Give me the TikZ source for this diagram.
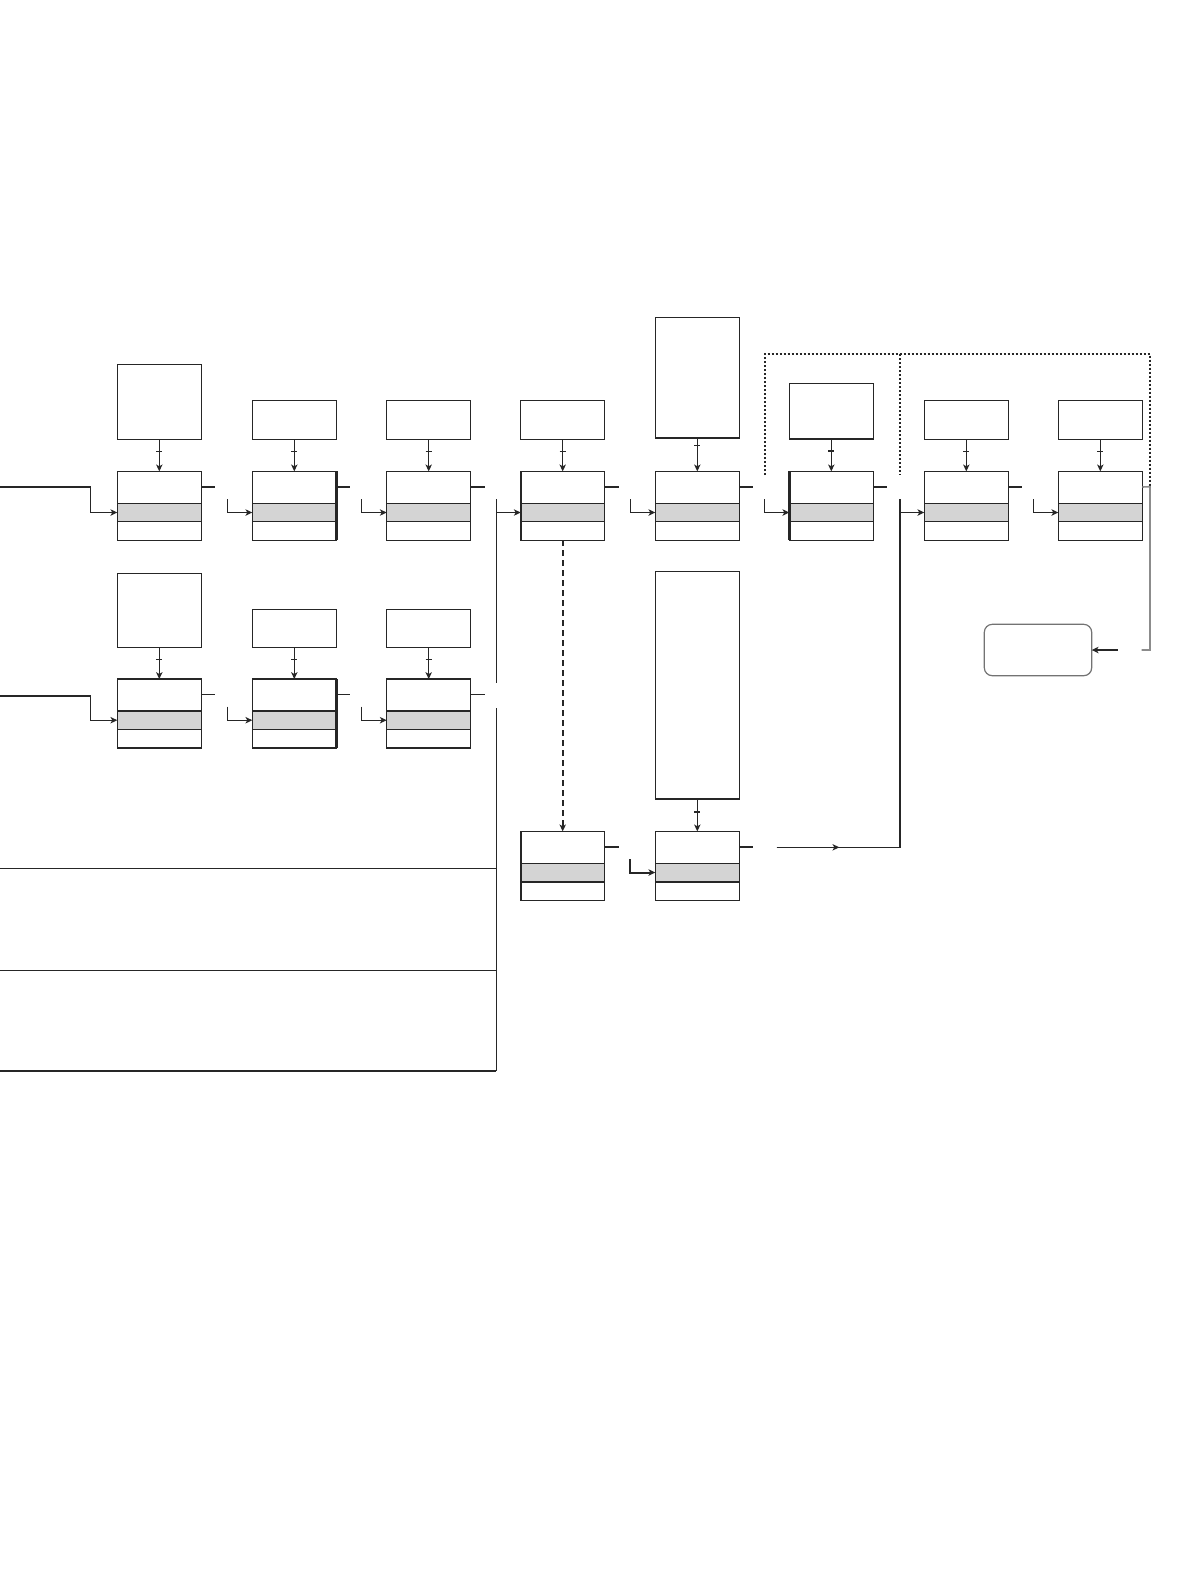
\documentclass[tikz,border=0pt]{standalone}
\usetikzlibrary{arrows.meta,calc}
\tikzset{
 ln/.style={line width=0.55pt, draw=black!85},
 arr/.style={ln, -{Stealth[length=3.4pt,width=3.2pt,inset=0.9pt]}},
 topbox/.style={draw=black!85, line width=0.6pt, minimum width=42pt, inner sep=0pt, outer sep=0pt, anchor=north west},
 stackbox/.style={topbox, minimum height=34.5pt},
 band/.style={fill=black!17, draw=black!85, line width=0.6pt},
 dotline/.style={line width=1.1pt, dash pattern=on 1pt off 1pt, draw=black!85},
 dashline/.style={line width=1pt, dash pattern=on 3pt off 2pt, draw=black!85, -{Stealth[length=3.4pt,width=3.2pt,inset=0.9pt]}},
 thickedge/.style={line width=1.2pt, draw=black!85},
 grayline/.style={line width=0.8pt, draw=black!45},
 roundbox/.style={draw=black!55, line width=0.6pt, rounded corners=4pt, minimum width=53.7pt, minimum height=25.7pt, inner sep=0pt, outer sep=0pt, anchor=north west},
}
\newcommand{\stackat}[3]{%
 \node[stackbox] (#1) at (#2,#3) {};
 \draw[band] ([yshift=-16pt]#1.north west) rectangle ([yshift=-25.25pt]#1.north east);
 \coordinate (#1in) at ([yshift=-20.6pt]#1.north west);
 \coordinate (#1out) at ([yshift=-7.85pt]#1.north east);
}
\newcommand{\feed}[3]{%
 \draw[arr] (#1.south) -- (#2.north);
 \draw[ln] ($(#1.south)+(-1.5pt,-#3)$) -- ++(3pt,0pt);
}
\newcommand{\stub}[1]{\draw[ln] (#1out) -- ++(7pt,0pt);}
\newcommand{\infeed}[1]{\draw[arr] ([xshift=-12.5pt,yshift=6.75pt]#1in) |- (#1in);}
\begin{document}
\begin{tikzpicture}[x=0.5pt,y=-0.5pt]
\fill[white] (0,0) rectangle (1191,1587);
\useasboundingbox (0,0) rectangle (1191,1587);

% ---- row 1 top boxes
\node[topbox, minimum height=37.5pt] (t11) at (117.3,364.3) {};
\node[topbox, minimum height=19.5pt] (t12) at (252.3,400.3) {};
\node[topbox, minimum height=19.5pt] (t13) at (386.7,400.3) {};
\node[topbox, minimum height=19.5pt] (t14) at (520.7,400.3) {};
\node[topbox, minimum height=60.35pt] (t15) at (655.3,317.3) {};
\node[topbox, minimum height=27.85pt] (t16) at (789.3,383.3) {};
\node[topbox, minimum height=19.5pt] (t17) at (924.3,400.3) {};
\node[topbox, minimum height=19.5pt] (t18) at (1058.3,400.3) {};

% ---- row 1 stacks
\stackat{s11}{117.3}{471.3}
\stackat{s12}{252.3}{471.3}
\stackat{s13}{386.7}{471.3}
\stackat{s14}{520.7}{471.3}
\stackat{s15}{655.3}{471.3}
\stackat{s16}{789.3}{471.3}
\stackat{s17}{924.3}{471.3}
\stackat{s18}{1058.3}{471.3}

\feed{t11}{s11}{6pt}
\feed{t12}{s12}{6pt}
\feed{t13}{s13}{6pt}
\feed{t14}{s14}{6pt}
\feed{t15}{s15}{3.6pt}
\feed{t16}{s16}{6pt}
\feed{t17}{s17}{6pt}
\feed{t18}{s18}{6pt}

% ---- row 2
\node[topbox, minimum height=37pt] (t21) at (117.3,573.3) {};
\node[topbox, minimum height=19pt] (t22) at (252.3,609.3) {};
\node[topbox, minimum height=19pt] (t23) at (386.7,609.3) {};
\stackat{s21}{117.3}{679}
\stackat{s22}{252.3}{679}
\stackat{s23}{386.7}{679}
\feed{t21}{s21}{6.3pt}
\feed{t22}{s22}{6.3pt}
\feed{t23}{s23}{6.3pt}

% ---- row 3
\node[topbox, minimum height=113.6pt] (t35) at (655.3,571.8) {};
\stackat{s34}{520.7}{831.3}
\stackat{s35}{655.3}{831.3}
\draw[arr] (t35.south) -- (s35.north);
\draw[line width=1pt, draw=black!85] ($(t35.south)+(-1.5pt,-6.3pt)$) -- ++(3pt,0pt);

% ---- thick edges
\draw[thickedge] (s12.north east) -- (s12.south east);
\draw[thickedge] (s22.north east) -- (s22.south east);
\draw[thickedge] (s14.north west) -- (s14.south west);
\draw[thickedge] (s16.north west) -- (s16.south west);
\draw[thickedge] (s34.north west) -- (s34.south west);
\draw[thickedge] ([yshift=-25.25pt]s34.north west) -- ([yshift=-25.25pt]s34.north east);
\draw[thickedge] ([yshift=-25.25pt]s35.north west) -- ([yshift=-25.25pt]s35.north east);

% ---- stubs
\stub{s11}\stub{s12}\stub{s13}\stub{s14}\stub{s15}\stub{s16}\stub{s17}
\stub{s21}\stub{s22}\stub{s23}
\stub{s34}\stub{s35}

% ---- inputs
\coordinate (in1) at (0,487);
\coordinate (in1k) at (90.3,487);
\draw[arr] (in1) -- (in1k) |- (s11in);
\coordinate (in2) at (0,696);
\coordinate (in2k) at (90.3,696);
\draw[arr] (in2) -- (in2k) |- (s21in);
\infeed{s12}\infeed{s13}\infeed{s15}\infeed{s16}\infeed{s18}
\infeed{s22}\infeed{s23}
\draw[arr, line width=1pt] ([xshift=-12.5pt,yshift=6.75pt]s35in) |- (s35in);

% ---- bus on the left
\coordinate (busT) at (496.3,499.3);
\coordinate (busG1) at (496.3,683.3);
\coordinate (busG2) at (496.3,708.3);
\coordinate (busB) at (496.3,1071);
\draw[ln] (busT) -- (busG1);
\draw[ln] (busG2) -- (busB);
\draw[arr] (busT |- s14in) -- (s14in);
\coordinate (h1) at (0,868.7);
\coordinate (h2) at (0,970.3);
\coordinate (h3) at (0,1071);
\draw[ln] (h1) -- (busG2 |- h1);
\draw[ln] (h2) -- (busG2 |- h2);
\draw[line width=1.1pt, draw=black!85] (h3) -- (busB);

% ---- dashed link
\draw[dashline] (s14.south) -- (s34.north);

% ---- row 3 to column 7
\coordinate (r3a) at (776.7,847.3);
\coordinate (r3m) at (839.3,847.3);
\coordinate (b7bot) at (900,847.3);
\coordinate (b7top) at (900,499.3);
\draw[ln] (r3a) -- (b7bot) -- (b7top);
\draw[arr] (r3a) -- (r3m);
\draw[arr] (b7top |- s17in) -- (s17in);

% ---- dotted frame
\draw[dotline] (764.7,475) -- (764.7,354) -- (1150,354) -- (1150,486.7);
\draw[dotline] (900,354) -- (900,475);

% ---- output
\node[roundbox] (rb) at (984.3,624.3) {};
\coordinate (g1) at (1150,486.7);
\coordinate (g2) at (1150,650);
\coordinate (g3) at (1141.7,650);
\coordinate (g4) at (1117.7,650);
\draw[grayline] (s18out) -- (g1) -- (g2) -- (g3);
\draw[arr, line width=1.1pt] (g4) -- (g4 -| rb.east);
\end{tikzpicture}
\end{document}
